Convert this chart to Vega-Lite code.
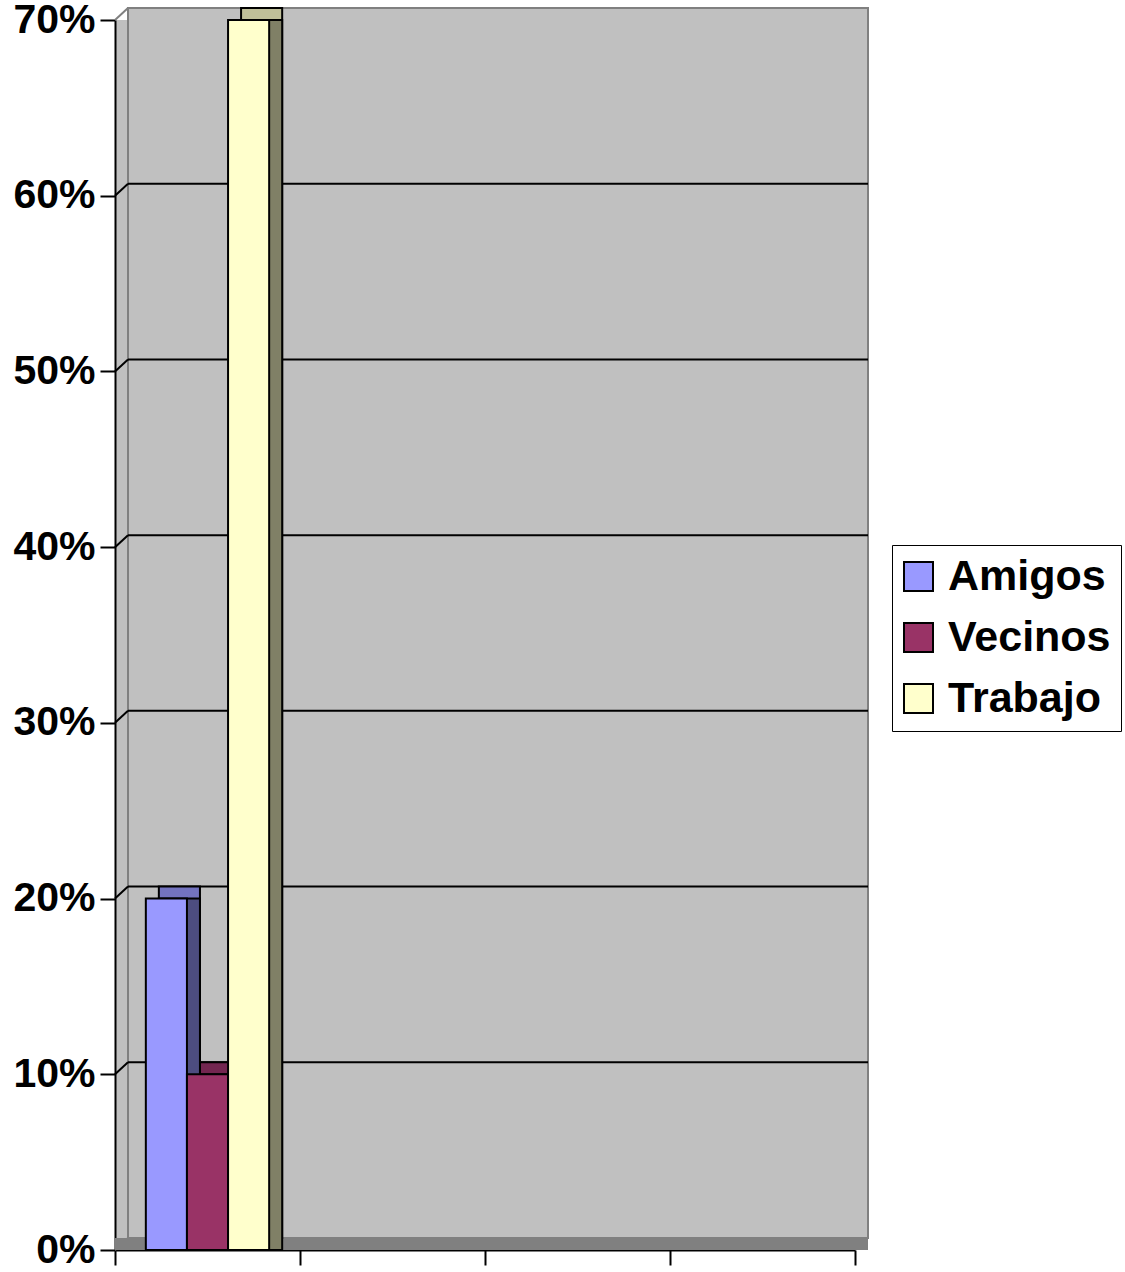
{
  "$schema": "https://vega.github.io/schema/vega-lite/v6.json",
  "autosize": "none",
  "width": 740,
  "height": 1230,
  "padding": {"left": 115, "top": 20, "right": 270, "bottom": 22},
  "background": "white",
  "view": {"fill": "#c0c0c0", "stroke": null},
  "config": {
    "font": "Liberation Sans",
    "axis": {"domainColor": "black", "domainWidth": 2, "tickColor": "black", "tickWidth": 2, "tickSize": 15, "grid": false, "title": null}
  },
  "datasets": {
    "bars": [
      {"categoria": "1", "serie": "Amigos", "valor": 0.2},
      {"categoria": "1", "serie": "Vecinos", "valor": 0.1},
      {"categoria": "1", "serie": "Trabajo", "valor": 0.7}
    ],
    "grid": [{"g": 0.1}, {"g": 0.2}, {"g": 0.3}, {"g": 0.4}, {"g": 0.5}, {"g": 0.6}],
    "edges": [{"g": 0}, {"g": 0.7}]
  },
  "layer": [
    {
      "data": {"values": [{"lo": 0, "hi": 0.7}]},
      "mark": {"type": "rect", "fill": "#c0c0c0", "stroke": "#808080", "strokeWidth": 2, "xOffset": 13, "x2Offset": 13, "yOffset": -12, "y2Offset": -12},
      "encoding": {
        "x": {"value": 0},
        "x2": {"value": "width"},
        "y": {"field": "lo", "type": "quantitative", "scale": {"domain": [0, 0.7], "nice": false, "zero": true}},
        "y2": {"field": "hi"}
      }
    },
    {
      "data": {"values": [{"lo": 0}]},
      "mark": {"type": "rect", "fill": "#808080", "x2Offset": 13, "y2Offset": -12},
      "encoding": {
        "x": {"value": 0},
        "x2": {"value": "width"},
        "y": {"field": "lo", "type": "quantitative"},
        "y2": {"field": "lo"}
      }
    },
    {
      "data": {"name": "grid"},
      "mark": {"type": "rule", "color": "black", "strokeWidth": 2, "xOffset": 13, "x2Offset": 13, "yOffset": -12},
      "encoding": {
        "x": {"value": 0},
        "x2": {"value": "width"},
        "y": {"field": "g", "type": "quantitative"}
      }
    },
    {
      "data": {"name": "grid"},
      "mark": {"type": "rule", "color": "black", "strokeWidth": 2, "x2Offset": 13, "y2Offset": -12},
      "encoding": {
        "x": {"value": 0},
        "x2": {"value": 0},
        "y": {"field": "g", "type": "quantitative"},
        "y2": {"field": "g"}
      }
    },
    {
      "data": {"name": "edges"},
      "mark": {"type": "rule", "color": "#808080", "strokeWidth": 2, "x2Offset": 13, "y2Offset": -12},
      "encoding": {
        "x": {"value": 0},
        "x2": {"value": 0},
        "y": {"field": "g", "type": "quantitative"},
        "y2": {"field": "g"}
      }
    },
    {
      "data": {"name": "bars"},
      "mark": {"type": "bar", "stroke": "black", "strokeWidth": 2, "yOffset": -12, "y2Offset": -12},
      "encoding": {
        "x": {"field": "categoria", "type": "nominal", "scale": {"domain": ["1", "2", "3", "4"], "paddingInner": 0, "paddingOuter": 0}, "axis": {"labels": false, "tickBand": "extent", "domain": true, "ticks": true}},
        "xOffset": {"field": "serie", "type": "nominal", "scale": {"domain": ["Amigos", "Vecinos", "Trabajo"], "paddingInner": 0, "paddingOuter": 0.75, "align": 0.711}},
        "y": {"field": "valor", "type": "quantitative"},
        "fill": {"field": "serie", "type": "nominal", "scale": {"domain": ["Amigos", "Vecinos", "Trabajo"], "range": ["#7373bf", "#732650", "#bfbf99"]}, "legend": null}
      }
    },
    {
      "data": {"name": "bars"},
      "mark": {"type": "bar", "stroke": "black", "strokeWidth": 2, "y2Offset": -12},
      "encoding": {
        "x": {"field": "categoria", "type": "nominal"},
        "xOffset": {"field": "serie", "type": "nominal", "scale": {"domain": ["Amigos", "Vecinos", "Trabajo"], "paddingInner": 0, "paddingOuter": 0.75, "align": 0.711}},
        "y": {"field": "valor", "type": "quantitative"},
        "fill": {"field": "serie", "type": "nominal", "scale": {"domain": ["Amigos", "Vecinos", "Trabajo"], "range": ["#4d4d80", "#4d1a33", "#808066"]}, "legend": null}
      }
    },
    {
      "data": {"name": "bars"},
      "mark": {"type": "bar", "stroke": "black", "strokeWidth": 2},
      "encoding": {
        "x": {"field": "categoria", "type": "nominal"},
        "xOffset": {"field": "serie", "type": "nominal", "scale": {"domain": ["Amigos", "Vecinos", "Trabajo"], "paddingInner": 0, "paddingOuter": 0.75, "align": 0.5}},
        "y": {"field": "valor", "type": "quantitative", "axis": {"values": [0, 0.1, 0.2, 0.3, 0.4, 0.5, 0.6, 0.7], "format": ".0%", "labelFontSize": 41, "labelFontWeight": "bold", "labelColor": "black", "labelPadding": 5, "labelFont": "Liberation Sans"}},
        "fill": {
          "field": "serie", "type": "nominal",
          "scale": {"domain": ["Amigos", "Vecinos", "Trabajo"], "range": ["#9999ff", "#993366", "#ffffcc"]},
          "legend": {
            "title": null, "orient": "none", "legendX": 777, "legendY": 525,
            "padding": 10, "strokeColor": "black", "fillColor": "white",
            "symbolType": "square", "symbolSize": 841, "symbolStrokeColor": "black", "symbolStrokeWidth": 2, "symbolOpacity": 1, "symbolOffset": -5,
            "labelFontSize": 43, "labelFontWeight": "bold", "labelFont": "Liberation Sans", "labelColor": "black", "labelLimit": 400,
            "labelOffset": 8, "rowPadding": 17
          }
        }
      }
    }
  ],
  "resolve": {"scale": {"xOffset": "independent", "fill": "independent"}}
}
